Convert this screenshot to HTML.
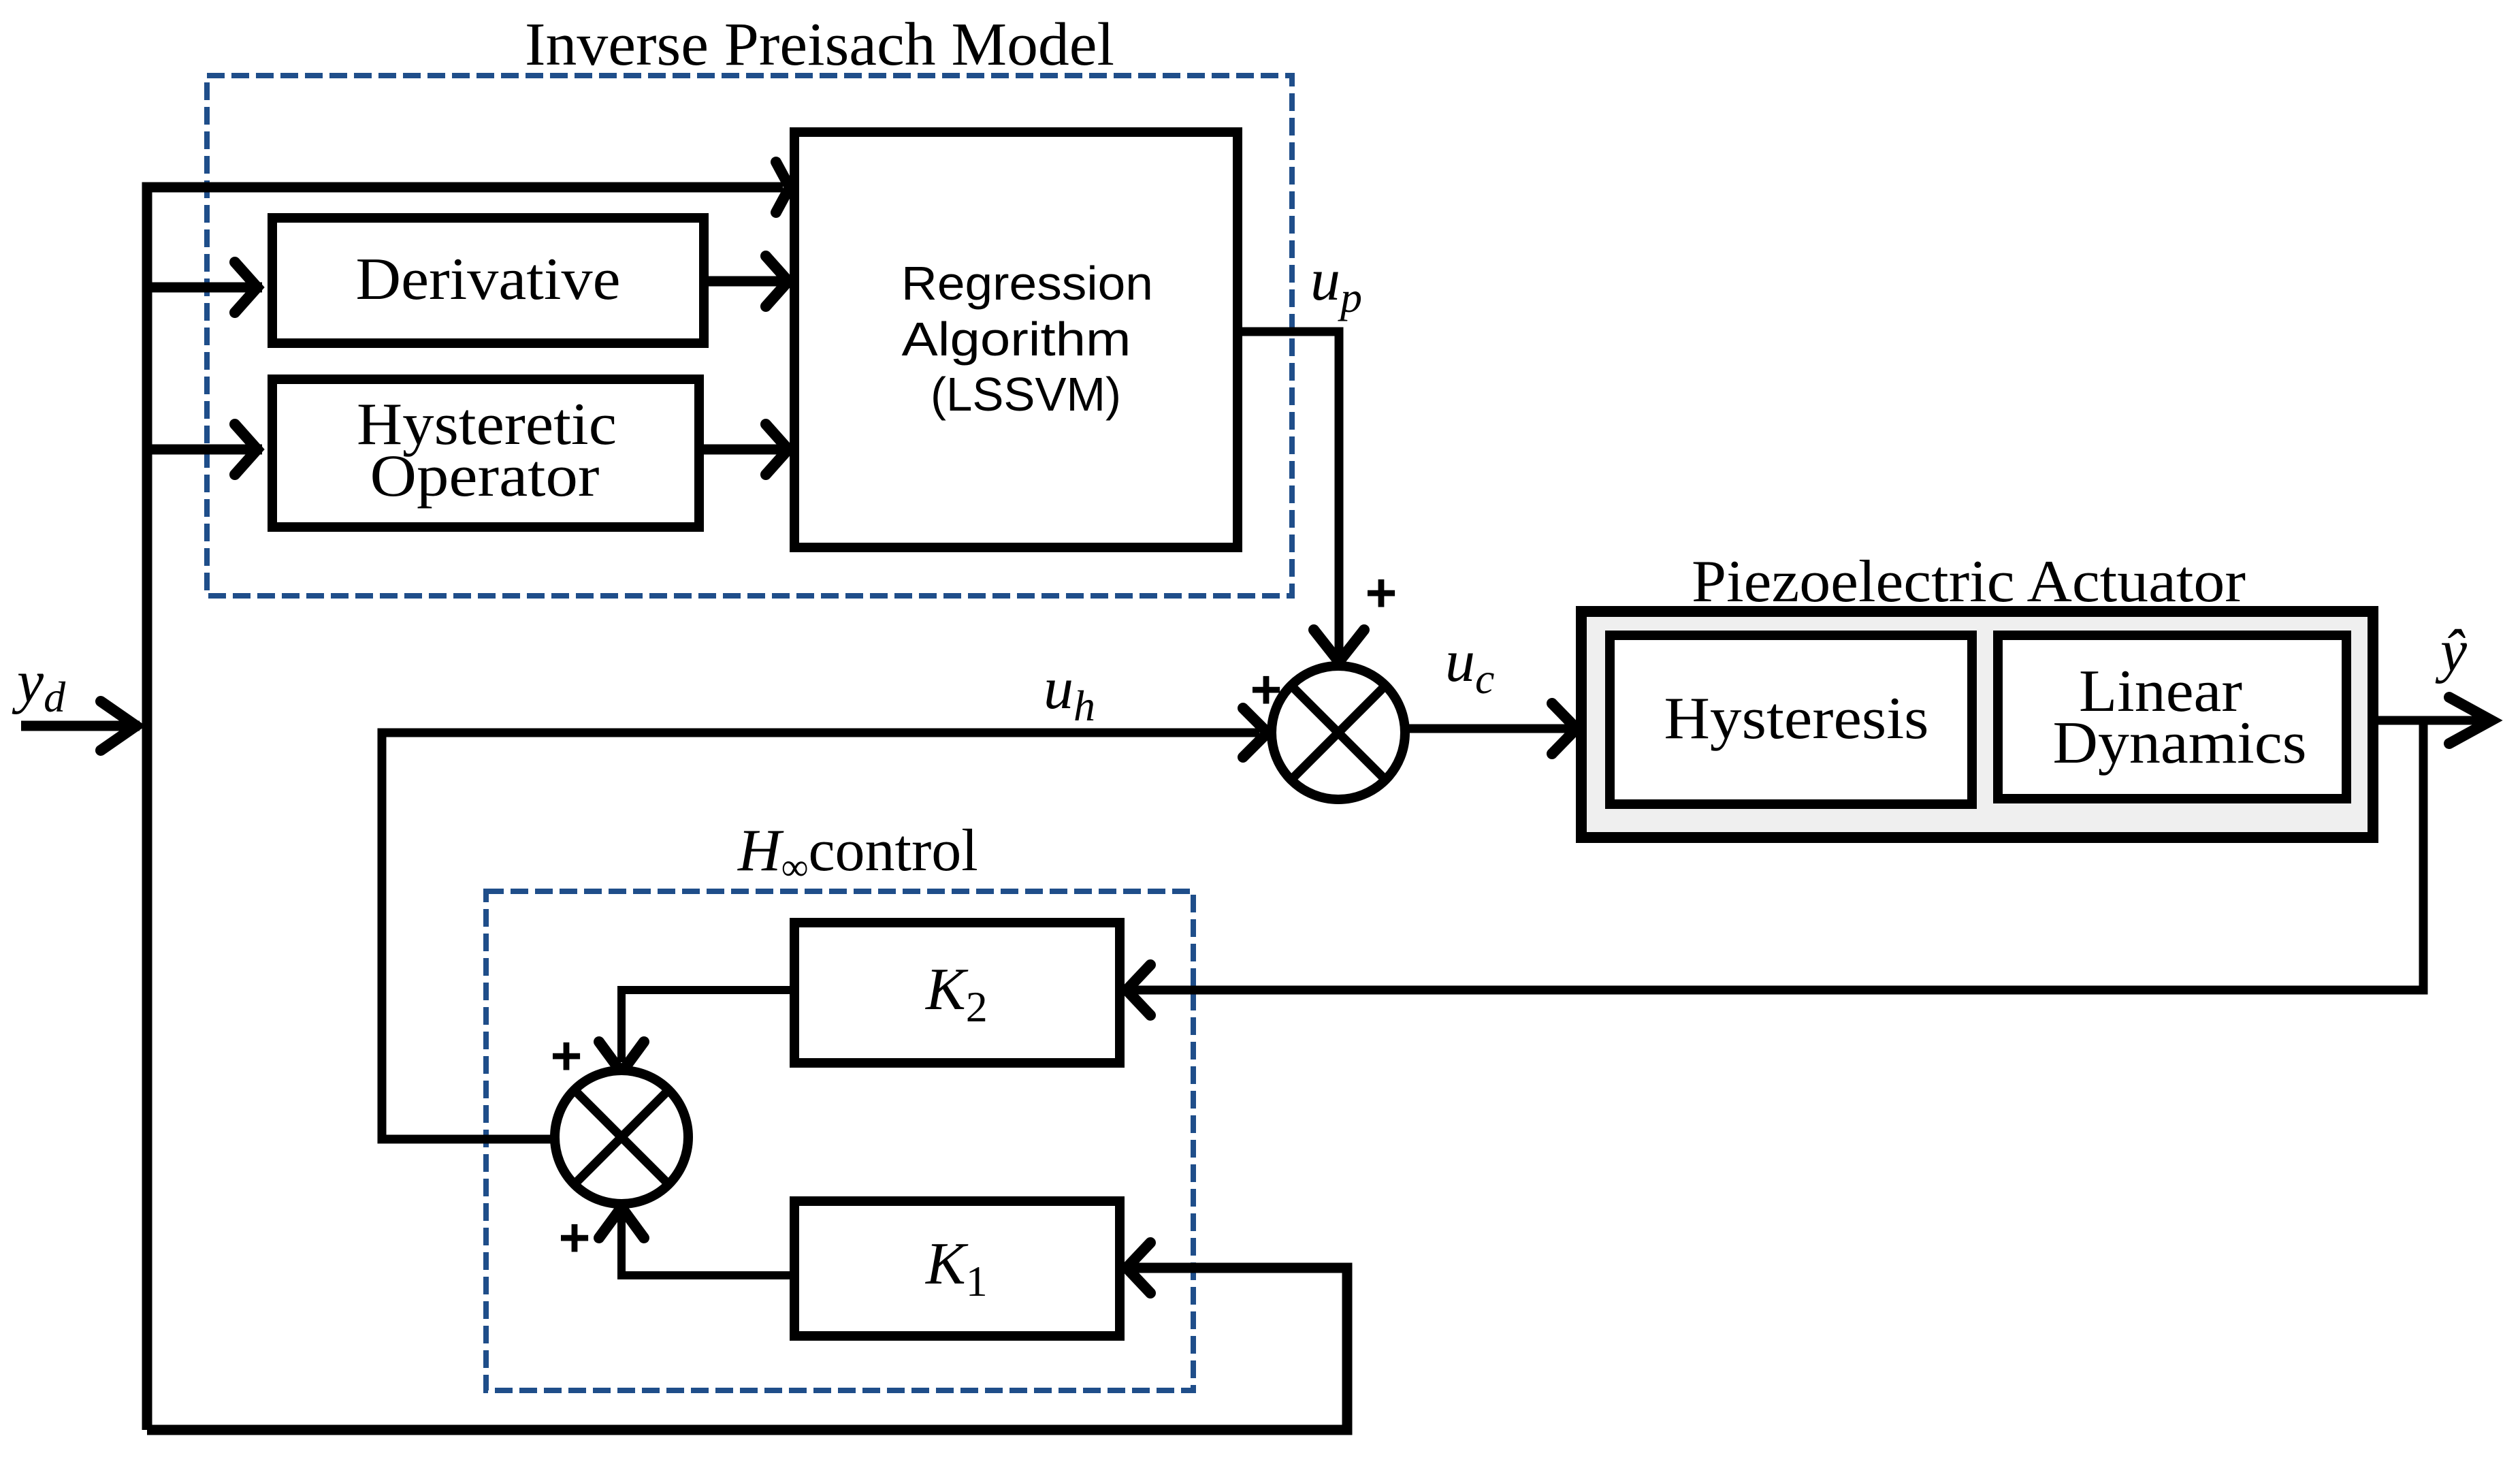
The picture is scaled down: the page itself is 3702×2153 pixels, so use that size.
<!DOCTYPE html>
<html><head><meta charset="utf-8"><style>
html,body{margin:0;padding:0;background:#fff}
svg{display:block}
.s{font-family:"Liberation Serif",serif}
.a{font-family:"Liberation Sans",sans-serif}
</style></head><body>
<svg width="3702" height="2153" viewBox="0 0 3702 2153" xmlns="http://www.w3.org/2000/svg">
<g fill="none" stroke="#1f4e8a" stroke-width="8" stroke-dasharray="26 10">
<rect x="304" y="111" width="1594" height="764"/>
<rect x="714" y="1309" width="1039" height="733"/>
</g>
<text class="s" x="1204" y="95" font-size="90" text-anchor="middle" textLength="866" lengthAdjust="spacingAndGlyphs">Inverse Preisach Model</text>
<text class="s" x="1084" y="1278" font-size="88"><tspan font-style="italic">H</tspan><tspan font-size="56" dy="14">∞</tspan><tspan dy="-14">control</tspan></text>
<text class="s" x="2892" y="883" font-size="88" text-anchor="middle" textLength="814" lengthAdjust="spacingAndGlyphs">Piezoelectric Actuator</text>

<g fill="#fff" stroke="#000" stroke-width="14">
<rect x="1167" y="194" width="651" height="610"/>
<rect x="400" y="320" width="634" height="184"/>
<rect x="400" y="557" width="627" height="217"/>
<rect x="2323" y="898" width="1163" height="332" fill="#efefef" stroke-width="16"/>
<rect x="2365" y="933" width="532" height="248"/>
<rect x="2935" y="933" width="512" height="240"/>
<rect x="1167" y="1355" width="478" height="206"/>
<rect x="1167" y="1764" width="478" height="198"/>
</g>

<g fill="none" stroke="#000" stroke-width="15" stroke-linejoin="miter">
<polyline points="216,2100 216,275 1150,275"/>
<line x1="216" y1="422" x2="385" y2="422"/>
<line x1="216" y1="660" x2="385" y2="660"/>
<line x1="1034" y1="413" x2="1150" y2="413"/>
<line x1="1027" y1="660" x2="1150" y2="660"/>
<line x1="31" y1="1066" x2="205" y2="1066"/>
<polyline points="1818,487 1967,487 1967,960" stroke-width="13"/>
<polyline points="816,1673 561,1673 561,1076 1850,1076" stroke-width="13"/>
<line x1="2066" y1="1070" x2="2310" y2="1070" stroke-width="13"/>
<polyline points="3493,1058 3650,1058" stroke-width="13"/>
<polyline points="3560,1058 3560,1454 1665,1454" stroke-width="13"/>
<polyline points="1167,1454 913,1454 913,1560" stroke-width="12"/>
<polyline points="1167,1873 913,1873 913,1785" stroke-width="12"/>
<polyline points="216,2100 1979,2100 1979,1862 1665,1862"/>
</g>

<g fill="none" stroke="#000" stroke-width="16" stroke-linecap="round" stroke-linejoin="miter">
<polyline points="1140,238 1160,275 1140,312"/>
<polyline points="345,385 378,422 345,459"/>
<polyline points="345,623 378,660 345,697"/>
<polyline points="1125,376 1158,413 1125,450"/>
<polyline points="1125,623 1158,660 1125,697"/>
<polyline points="148,1030 200,1066 148,1102"/>
<polyline points="1930,925 1967,972 2004,925"/>
<polyline points="1826,1040 1862,1076 1826,1112"/>
<polyline points="2280,1033 2316,1070 2280,1107"/>
<polyline points="3598,1024 3660,1058 3598,1092"/>
<polyline points="1690,1417 1655,1454 1690,1491"/>
<polyline points="1690,1825 1655,1862 1690,1899"/>
<polyline points="880,1530 913,1575 946,1530"/>
<polyline points="880,1818 913,1773 946,1818"/>
</g>

<g fill="#fff" stroke="#000" stroke-width="14">
<circle cx="1966" cy="1076" r="98"/>
<circle cx="913" cy="1670" r="98"/>
</g>
<g stroke="#000" stroke-width="13">
<line x1="1897" y1="1007" x2="2035" y2="1145"/>
<line x1="2035" y1="1007" x2="1897" y2="1145"/>
<line x1="844" y1="1601" x2="982" y2="1739"/>
<line x1="982" y1="1601" x2="844" y2="1739"/>
</g>

<g class="a" font-size="80" font-weight="bold">
<text x="2029" y="898" text-anchor="middle">+</text>
<text x="1860" y="1040" text-anchor="middle">+</text>
<text x="832" y="1578" text-anchor="middle">+</text>
<text x="844" y="1845" text-anchor="middle">+</text>
</g>

<g class="s" font-size="88" text-anchor="middle" lengthAdjust="spacingAndGlyphs">
<text x="717" y="439" textLength="389" lengthAdjust="spacingAndGlyphs">Derivative</text>
<text x="715" y="652" textLength="382" lengthAdjust="spacingAndGlyphs">Hysteretic</text>
<text x="712" y="728" textLength="337" lengthAdjust="spacingAndGlyphs">Operator</text>
<text x="2639" y="1084" textLength="389" lengthAdjust="spacingAndGlyphs">Hysteresis</text>
<text x="3174" y="1044" textLength="240" lengthAdjust="spacingAndGlyphs">Linear</text>
<text x="3202" y="1120" textLength="373" lengthAdjust="spacingAndGlyphs">Dynamics</text>
</g>
<g class="a" font-size="70" text-anchor="middle">
<text x="1509" y="440" textLength="370" lengthAdjust="spacingAndGlyphs">Regression</text>
<text x="1493" y="522" textLength="337" lengthAdjust="spacingAndGlyphs">Algorithm</text>
<text x="1507" y="603" textLength="280" lengthAdjust="spacingAndGlyphs">(LSSVM)</text>
</g>

<g class="s" font-style="italic" font-size="88">
<text x="25" y="1030">y<tspan font-size="64" dy="15">d</tspan></text>
<text x="1925" y="440">u<tspan font-size="64" dy="18">p</tspan></text>
<text x="1533" y="1040">u<tspan font-size="64" dy="18">h</tspan></text>
<text x="2123" y="1000">u<tspan font-size="64" dy="18">c</tspan></text>
<text x="3585" y="985">ŷ</text>
<text x="1360" y="1482">K<tspan font-size="64" font-style="normal" dy="18">2</tspan></text>
<text x="1360" y="1885">K<tspan font-size="64" font-style="normal" dy="18">1</tspan></text>
</g>
</svg>
</body></html>
